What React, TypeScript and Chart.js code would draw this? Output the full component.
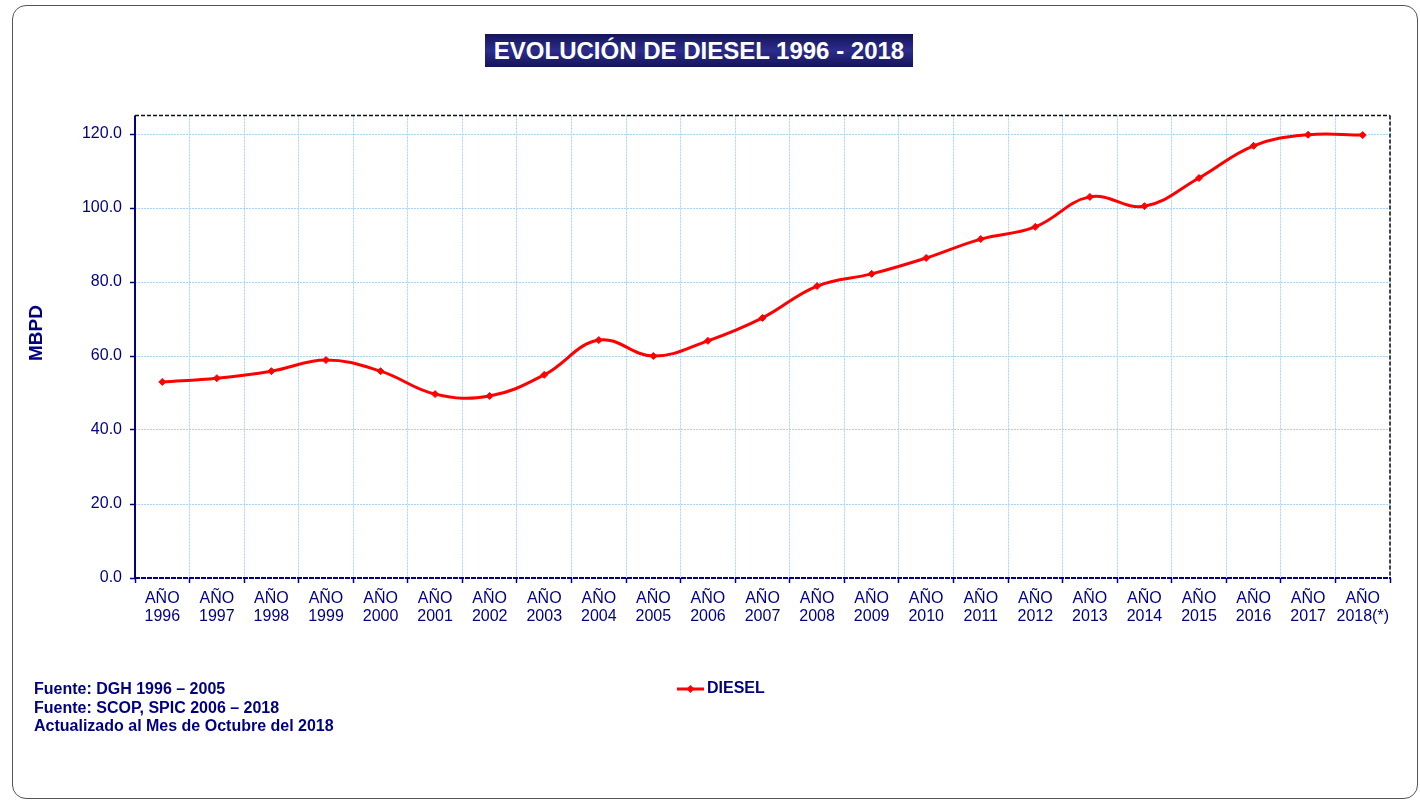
import React, { useEffect, useRef } from "react";
import { Chart, registerables } from "chart.js";

Chart.register(...registerables);

const yearLabels = [
  "1996", "1997", "1998", "1999", "2000", "2001", "2002", "2003", "2004", "2005", "2006",
  "2007", "2008", "2009", "2010", "2011", "2012", "2013", "2014", "2015", "2016", "2017", "2018(*)",
];
const categoryPrefix = "AÑO";
const dieselValues = [
  53.0, 54.0, 55.9, 58.9, 55.9, 49.7, 49.2, 54.9, 64.3, 60.0, 64.1,
  70.3, 78.9, 82.2, 86.5, 91.6, 94.9, 103.0, 100.5, 108.1, 116.8, 119.8, 119.7,
];
const yTickValues = [0, 20, 40, 60, 80, 100, 120];
const seriesName = "DIESEL";
const chartTitle = "EVOLUCIÓN DE DIESEL 1996 - 2018";
const yAxisTitle = "MBPD";
const footnotes = [
  "Fuente: DGH 1996 – 2005",
  "Fuente: SCOP, SPIC 2006 – 2018",
  "Actualizado al Mes de Octubre del 2018",
];

const NAVY = "#000080";
const FONT = "'Liberation Sans', Arial, sans-serif";

const framePlugin = {
  id: "frame",
  beforeDatasetsDraw(chart: any) {
    const { ctx, chartArea } = chart;
    const { left, right, top, bottom } = chartArea;
    ctx.save();
    ctx.lineWidth = 1.5;
    ctx.setLineDash([4, 2]);
    ctx.strokeStyle = "#111";
    ctx.beginPath();
    ctx.moveTo(left, top);
    ctx.lineTo(right, top);
    ctx.stroke();
    ctx.lineWidth = 2;
    ctx.strokeStyle = "#444";
    ctx.beginPath();
    ctx.moveTo(right, top);
    ctx.lineTo(right, bottom);
    ctx.stroke();
    ctx.setLineDash([5, 1]);
    ctx.strokeStyle = NAVY;
    ctx.lineWidth = 2;
    ctx.beginPath();
    ctx.moveTo(left, bottom);
    ctx.lineTo(right + 1, bottom);
    ctx.stroke();
    ctx.setLineDash([]);
    ctx.beginPath();
    ctx.moveTo(left, top);
    ctx.lineTo(left, bottom);
    ctx.stroke();
    ctx.restore();
  },
  afterDraw(chart: any) {
    const { ctx } = chart;
    const ds = chart.data.datasets[0];
    // y axis title
    ctx.save();
    ctx.translate(37, 333);
    ctx.rotate(-Math.PI / 2);
    ctx.fillStyle = NAVY;
    ctx.font = `bold 19px ${FONT}`;
    ctx.textAlign = "center";
    ctx.textBaseline = "middle";
    ctx.fillText(yAxisTitle, 0, 0);
    ctx.restore();
    // legend
    const x0 = chart.width / 2 - 33;
    const y0 = 689;
    ctx.save();
    ctx.strokeStyle = ds.borderColor;
    ctx.lineWidth = 3;
    ctx.beginPath();
    ctx.moveTo(x0, y0);
    ctx.lineTo(x0 + 27, y0);
    ctx.stroke();
    ctx.fillStyle = ds.pointBackgroundColor;
    ctx.beginPath();
    ctx.moveTo(x0 + 13.5, y0 - 4);
    ctx.lineTo(x0 + 17.5, y0);
    ctx.lineTo(x0 + 13.5, y0 + 4);
    ctx.lineTo(x0 + 9.5, y0);
    ctx.closePath();
    ctx.fill();
    ctx.fillStyle = NAVY;
    ctx.font = `bold 16px ${FONT}`;
    ctx.textBaseline = "middle";
    ctx.textAlign = "left";
    ctx.fillText(ds.label, x0 + 30, y0);
    ctx.restore();
  },
};

export default function App() {
  const canvasRef = useRef<HTMLCanvasElement | null>(null);

  useEffect(() => {
    if (!canvasRef.current) return;
    const chart = new Chart(canvasRef.current, {
      type: "line",
      data: {
        labels: yearLabels.map((y) => [categoryPrefix, y]),
        datasets: [
          {
            label: seriesName,
            data: dieselValues,
            borderColor: "#ff0000",
            backgroundColor: "#ff0000",
            pointBackgroundColor: "#ff0000",
            pointBorderColor: "#ff0000",
            borderWidth: 3,
            pointStyle: "rectRot",
            pointRadius: 3.5,
            pointBorderWidth: 1,
            tension: 0.4,
            fill: false,
          },
        ],
      },
      options: {
        responsive: false,
        animation: false,
        layout: { padding: { left: 23, right: 30, top: 115.5, bottom: 802 - 578 - 59 } },
        plugins: {
          legend: { display: false },
          title: { display: false },
          tooltip: { enabled: false },
        },
        scales: {
          x: {
            offset: true,
            afterFit: (scale: any) => {
              scale.height = 59;
            },
            grid: {
              offset: true,
              color: "#a9d3fb",
              lineWidth: 1,
              tickColor: NAVY,
              tickLength: 5,
              tickWidth: 1.5,
            },
            border: { display: false, dash: [2, 1] },
            ticks: {
              color: NAVY,
              padding: 7,
              maxRotation: 0,
              autoSkip: false,
              font: { family: FONT, size: 16, lineHeight: 1.125 },
            },
          },
          y: {
            min: 0,
            max: 125,
            afterFit: (scale: any) => {
              scale.width = 112;
            },
            afterBuildTicks: (scale: any) => {
              scale.ticks = yTickValues.map((v) => ({ value: v }));
            },
            grid: {
              color: "#a9d3fb",
              lineWidth: 1,
              tickColor: NAVY,
              tickLength: 5,
              tickWidth: 1.5,
            },
            border: { display: false, dash: [2, 1] },
            title: { display: false },
            ticks: {
              color: NAVY,
              padding: 8,
              font: { family: FONT, size: 16 },
              callback: (v: any) => Number(v).toFixed(1),
            },
          },
        },
      },
      plugins: [framePlugin],
    } as any);
    return () => chart.destroy();
  }, []);

  return (
    <div
      style={{
        position: "absolute",
        left: 0,
        top: 0,
        width: 1420,
        height: 802,
        overflow: "hidden",
        background: "#fff",
        fontFamily: FONT,
      }}
    >
      <div
        style={{
          position: "absolute",
          left: 12,
          top: 5,
          width: 1406,
          height: 794,
          border: "1px solid #555",
          borderRadius: 14,
          boxSizing: "border-box",
        }}
      />
      <canvas
        ref={canvasRef}
        width={1420}
        height={802}
        style={{ position: "absolute", left: 0, top: 0, width: 1420, height: 802 }}
      />
      <div
        style={{
          position: "absolute",
          left: 485,
          top: 34,
          width: 428,
          height: 33,
          background: "linear-gradient(180deg, #14145a 0%, #2c2c8c 50%, #14145a 100%)",
          color: "#fff",
          fontWeight: "bold",
          fontSize: 24,
          lineHeight: "33px",
          textAlign: "center",
          whiteSpace: "nowrap",
        }}
      >
        {chartTitle}
      </div>
      <div
        style={{
          position: "absolute",
          left: 34,
          top: 680,
          color: NAVY,
          fontWeight: "bold",
          fontSize: 16,
          lineHeight: "18.5px",
          whiteSpace: "nowrap",
        }}
      >
        {footnotes.map((f, i) => (
          <div key={i}>{f}</div>
        ))}
      </div>
    </div>
  );
}
